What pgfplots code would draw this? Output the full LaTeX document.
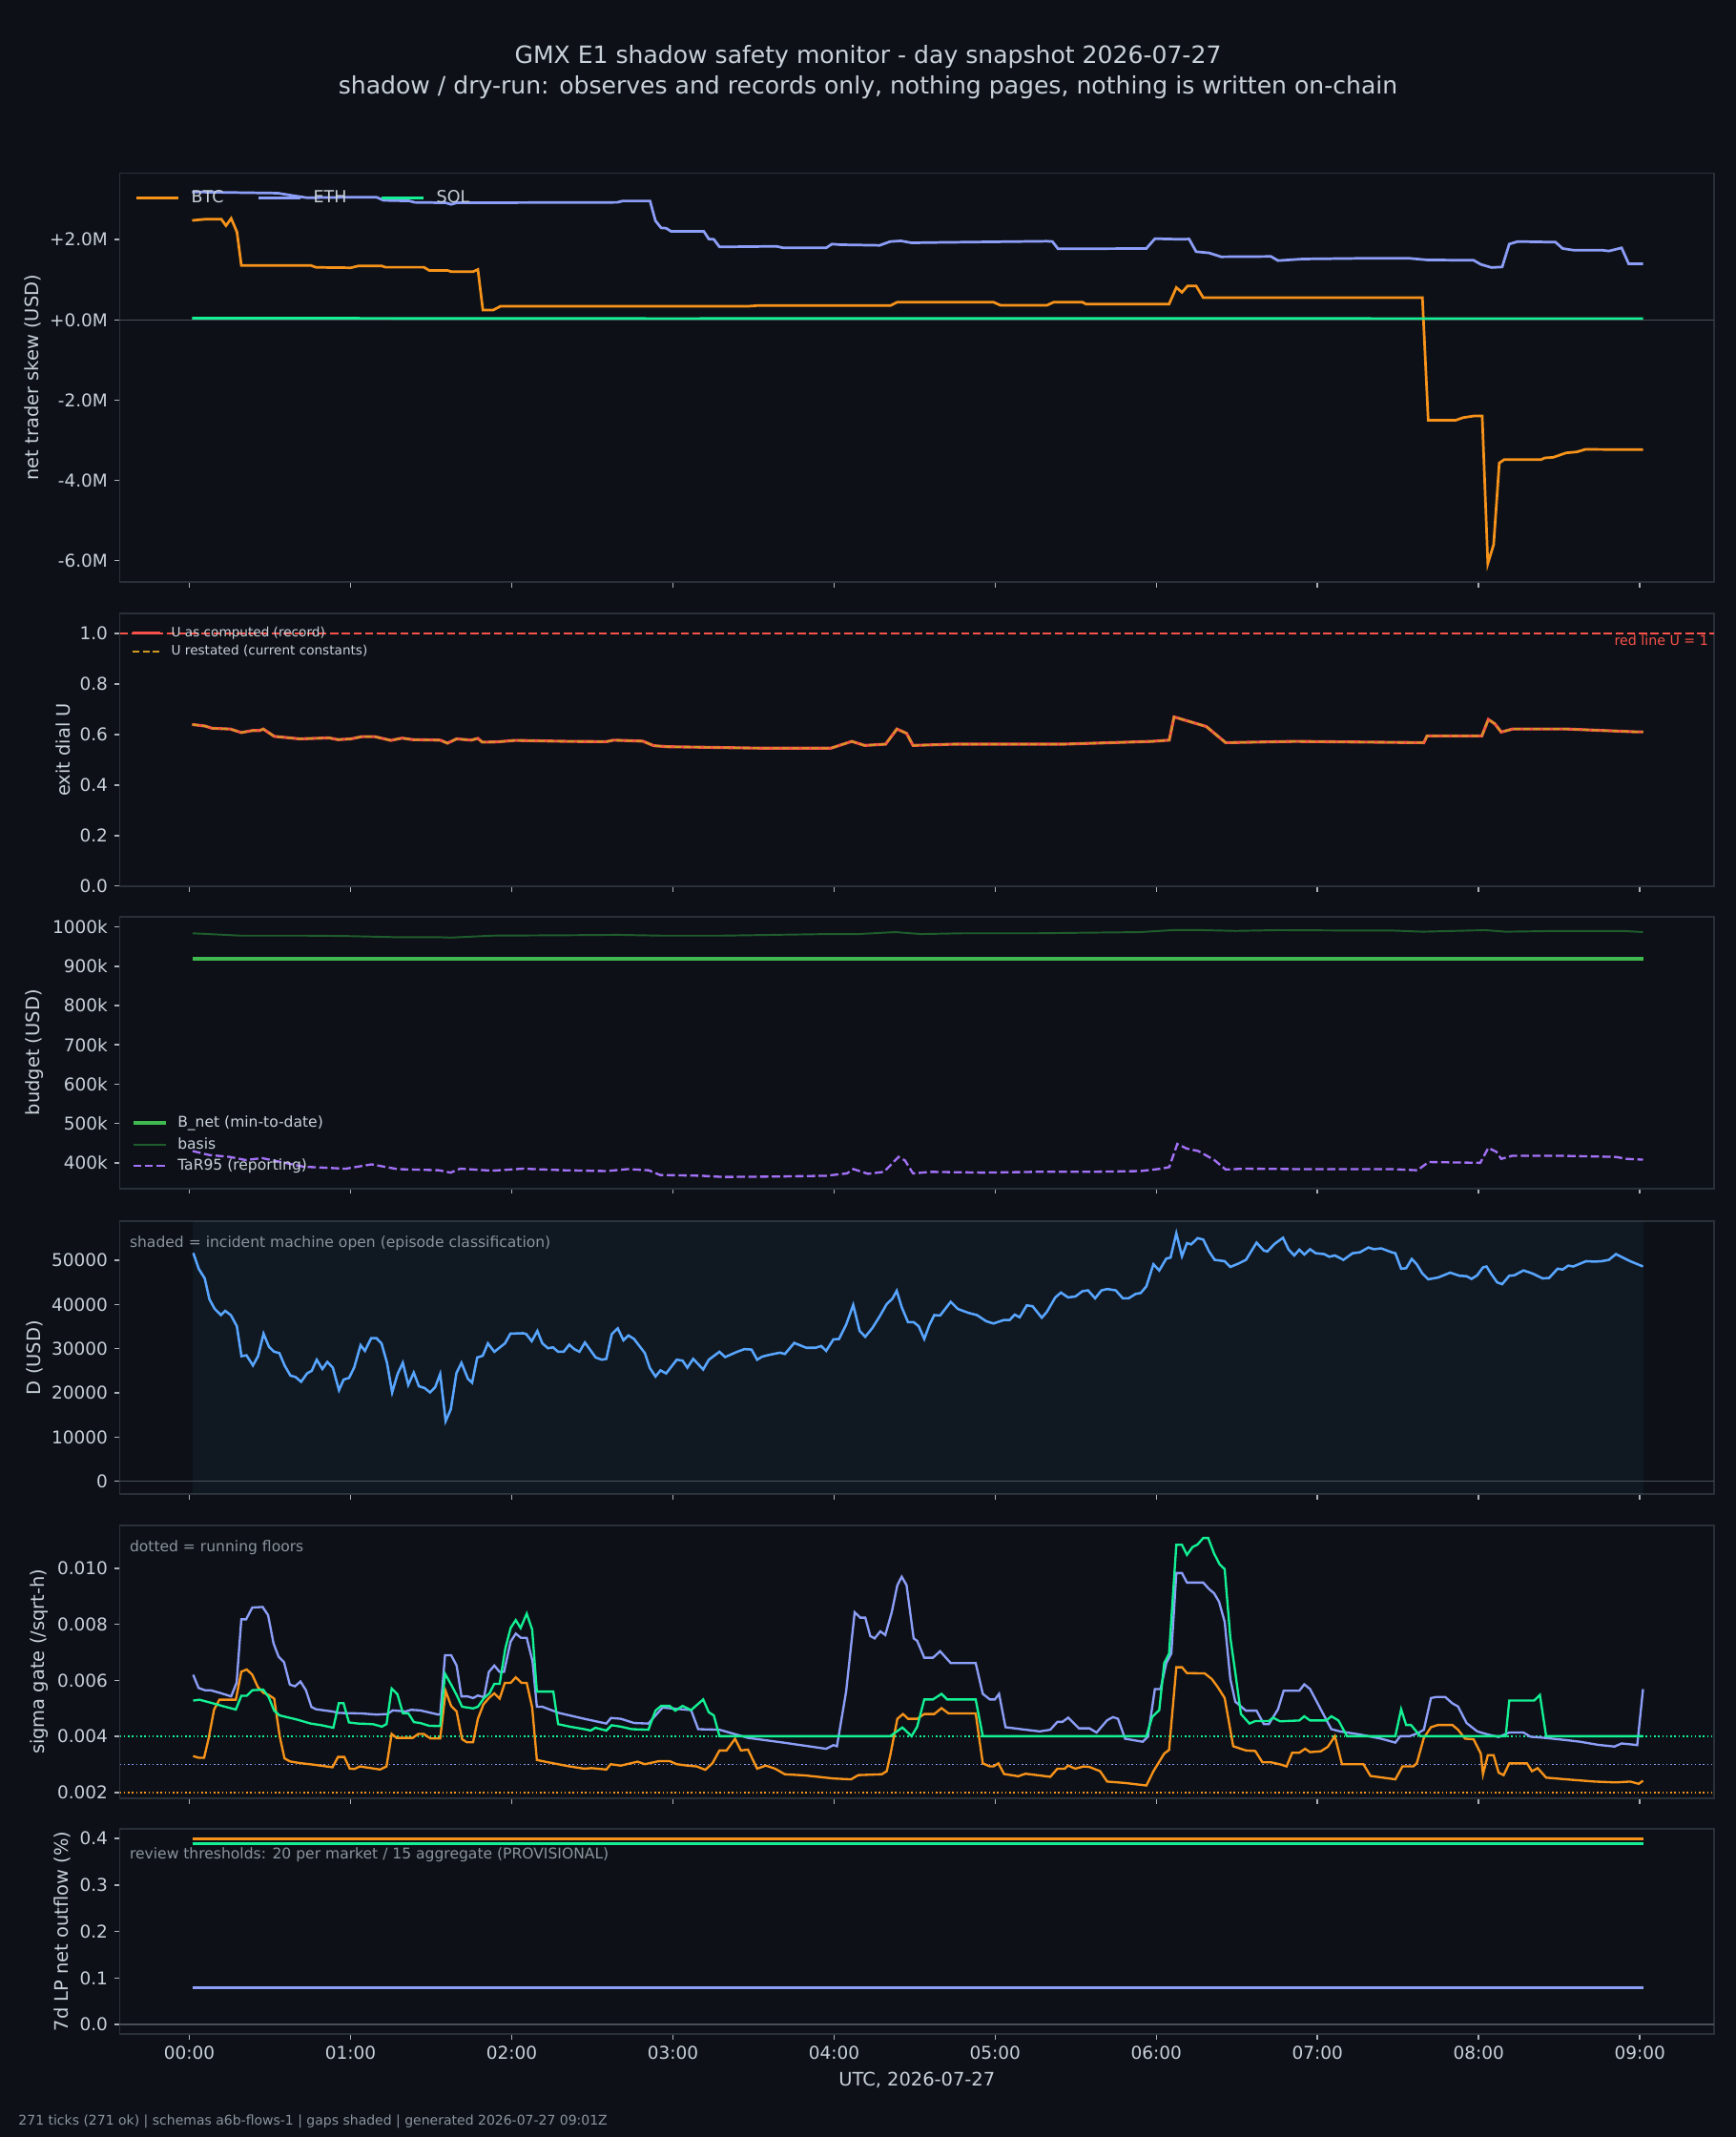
\documentclass[border=0pt]{standalone}
\usepackage{fontspec}
\setmainfont{DejaVu Sans}
\usepackage{pgfplots}
\pgfplotsset{compat=1.18}
\definecolor{figbg}{HTML}{0D1117}
\definecolor{spine}{HTML}{2A3038}
\definecolor{fg}{HTML}{C9D1D9}
\definecolor{muted}{HTML}{8B949E}
\definecolor{zl}{HTML}{484F58}
\definecolor{btc}{HTML}{F7931A}
\definecolor{eth}{HTML}{8C9EF7}
\definecolor{sol}{HTML}{14F195}
\definecolor{ured}{HTML}{F85149}
\definecolor{ugold}{HTML}{D29922}
\definecolor{bnet}{HTML}{3FB950}
\definecolor{basis}{HTML}{1F5C2C}
\definecolor{tar}{HTML}{A371F7}
\definecolor{dblue}{HTML}{58A6FF}
\pgfplotsset{
 panel/.style={
  scale only axis, width=859.5pt,
  xmin=-0.432, xmax=9.46,
  axis line style={draw=spine, line width=0.9pt},
  tick style={color=fg!85!black, line width=0.8pt},
  tick align=outside, major tick length=3pt,
  xtick={0,1,2,3,4,5,6,7,8,9}, xticklabels={},
  tick pos=left,
  ticklabel style={font=\fontsize{9.5}{11}\selectfont, text=fg},
  label style={font=\fontsize{10}{12}\selectfont, text=fg},
  ylabel shift=-2pt,
  legend cell align=left,
  legend style={draw=none, fill=none, text=fg},
 },
}
\begin{document}
\begin{tikzpicture}
\fill[figbg] (0,0) rectangle (936pt,-1152pt);
\node[text=fg, font=\fontsize{12.9}{15}\selectfont] at (468pt,-30.8pt) {GMX E1 shadow safety monitor - day snapshot 2026-07-27};
\node[text=fg, font=\fontsize{12.9}{15}\selectfont] at (468pt,-47.1pt) {shadow / dry-run: observes and records only, nothing pages, nothing is written on-chain};
\node[anchor=west, text=muted, font=\fontsize{7.2}{8}\selectfont, inner sep=0pt] at (9.8pt,-1143.6pt) {271 ticks (271 ok) | schemas a6b-flows-1 | gaps shaded | generated 2026-07-27 09:01Z};

% ---------------- panel 1
\begin{axis}[panel, at={(64.6pt,-93.3pt)}, anchor=north west, height=220.4pt,
 ymin=-6.53, ymax=3.66, ytick={-6,-4,-2,0,2}, yticklabels={-6.0M,-4.0M,-2.0M,+0.0M,+2.0M},
 ylabel={net trader skew (USD)},
 legend columns=3,
 legend style={at={(0,1)}, anchor=north west, xshift=5pt, yshift=-5pt, font=\fontsize{9}{11}\selectfont, /tikz/every even column/.append style={column sep=16pt}, /tikz/every odd column/.append style={column sep=4.5pt}},
 legend image code/.code={\draw[#1] (0pt,0pt) -- (22.5pt,0pt);},
]
\addplot[zl, line width=0.8pt, forget plot] coordinates {(-0.432,0) (9.46,0)};
\addplot[btc, line width=1.4pt] coordinates {(0.017,2.48) (0.096,2.51) (0.198,2.51) (0.227,2.35) (0.259,2.53) (0.295,2.19) (0.322,1.36) (0.752,1.36) (0.786,1.31) (1.002,1.30) (1.047,1.345) (1.194,1.345) (1.217,1.313) (1.455,1.313) (1.488,1.234) (1.602,1.234) (1.624,1.203) (1.76,1.203) (1.79,1.258) (1.821,0.246) (1.885,0.246) (1.93,0.341) (3.466,0.341) (3.532,0.36) (4.349,0.357) (4.393,0.444) (4.989,0.444) (5.033,0.364) (5.32,0.364) (5.364,0.444) (5.541,0.444) (5.563,0.396) (6.079,0.396) (6.124,0.807) (6.159,0.689) (6.194,0.847) (6.247,0.847) (6.291,0.554) (7.651,0.554) (7.687,-2.498) (7.859,-2.498) (7.903,-2.435) (7.969,-2.395) (8.022,-2.395) (8.057,-6.073) (8.093,-5.598) (8.128,-3.566) (8.159,-3.479) (8.388,-3.479) (8.41,-3.439) (8.463,-3.424) (8.543,-3.313) (8.609,-3.289) (8.662,-3.226) (9.02,-3.234)};
\addlegendentry{BTC}
\addplot[eth, line width=1.4pt] coordinates {(0.017,3.19) (0.549,3.16) (0.64,3.10) (0.73,3.045) (1.047,3.06) (1.16,3.06) (1.205,2.98) (1.364,2.966) (1.398,2.93) (1.59,2.92) (1.624,2.88) (1.658,2.92) (2.655,2.93) (2.689,2.966) (2.858,2.966) (2.892,2.47) (2.927,2.294) (2.958,2.286) (2.989,2.207) (3.192,2.207) (3.223,2.017) (3.254,2.009) (3.289,1.82) (3.532,1.83) (3.642,1.835) (3.686,1.796) (3.951,1.796) (3.987,1.891) (4.04,1.875) (4.283,1.859) (4.349,1.954) (4.415,1.97) (4.481,1.922) (4.614,1.93) (5.32,1.962) (5.355,1.954) (5.39,1.772) (5.938,1.78) (5.991,2.025) (6.159,2.009) (6.203,2.017) (6.247,1.701) (6.327,1.67) (6.402,1.574) (6.711,1.582) (6.755,1.479) (6.91,1.519) (7.263,1.535) (7.572,1.535) (7.682,1.495) (7.969,1.487) (8.013,1.385) (8.08,1.306) (8.146,1.321) (8.19,1.891) (8.243,1.954) (8.477,1.938) (8.521,1.78) (8.587,1.74) (8.764,1.74) (8.808,1.717) (8.887,1.796) (8.931,1.4) (9.02,1.4)};
\addlegendentry{ETH}
\addplot[sol, line width=1.4pt] coordinates {(0.017,0.045) (1.5,0.04) (3.0,0.035) (4.5,0.04) (6.0,0.04) (7.5,0.035) (9.02,0.035)};
\addlegendentry{SOL}
\end{axis}

% ---------------- panel 2
\begin{axis}[panel, at={(64.6pt,-330.7pt)}, anchor=north west, height=146.9pt,
 ymin=0, ymax=1.08, ytick={0,0.2,0.4,0.6,0.8,1.0}, yticklabels={0.0,0.2,0.4,0.6,0.8,1.0},
 ylabel={exit dial U},
 legend style={at={(0,1)}, anchor=north west, xshift=3pt, yshift=-3pt, font=\fontsize{7}{8}\selectfont, row sep=-1pt, /tikz/every odd column/.append style={column sep=3pt}},
 legend image code/.code={\draw[#1] (0pt,0pt) -- (15pt,0pt);},
]
\addplot[ured, line width=1.2pt, dash pattern=on 4.4pt off 1.9pt, forget plot] coordinates {(-0.432,1) (9.46,1)};
\addplot[ured, line width=1.6pt] coordinates {(0.017,0.640) (0.096,0.634) (0.141,0.625) (0.254,0.622) (0.322,0.608) (0.39,0.616) (0.435,0.616) (0.458,0.622) (0.526,0.593) (0.685,0.583) (0.866,0.587) (0.922,0.58) (1.002,0.583) (1.07,0.592) (1.149,0.592) (1.25,0.577) (1.319,0.586) (1.386,0.58) (1.556,0.578) (1.601,0.566) (1.658,0.583) (1.749,0.578) (1.79,0.585) (1.817,0.57) (1.907,0.571) (2.02,0.577) (2.36,0.573) (2.587,0.572) (2.632,0.578) (2.813,0.574) (2.881,0.556) (2.967,0.552) (3.56,0.546) (3.98,0.546) (4.11,0.573) (4.19,0.557) (4.32,0.562) (4.39,0.622) (4.45,0.605) (4.49,0.557) (4.74,0.562) (5.42,0.562) (5.97,0.573) (6.08,0.578) (6.11,0.67) (6.22,0.649) (6.31,0.632) (6.43,0.568) (6.86,0.573) (7.66,0.568) (7.68,0.595) (8.02,0.595) (8.06,0.66) (8.10,0.643) (8.14,0.61) (8.21,0.622) (8.55,0.622) (8.97,0.611) (9.02,0.611)};
\addlegendentry{U as computed (record)}
\addplot[ugold, line width=1pt, dash pattern=on 3.7pt off 1.6pt] coordinates {(0.017,0.640) (0.096,0.634) (0.141,0.625) (0.254,0.622) (0.322,0.608) (0.39,0.616) (0.435,0.616) (0.458,0.622) (0.526,0.593) (0.685,0.583) (0.866,0.587) (0.922,0.58) (1.002,0.583) (1.07,0.592) (1.149,0.592) (1.25,0.577) (1.319,0.586) (1.386,0.58) (1.556,0.578) (1.601,0.566) (1.658,0.583) (1.749,0.578) (1.79,0.585) (1.817,0.57) (1.907,0.571) (2.02,0.577) (2.36,0.573) (2.587,0.572) (2.632,0.578) (2.813,0.574) (2.881,0.556) (2.967,0.552) (3.56,0.546) (3.98,0.546) (4.11,0.573) (4.19,0.557) (4.32,0.562) (4.39,0.622) (4.45,0.605) (4.49,0.557) (4.74,0.562) (5.42,0.562) (5.97,0.573) (6.08,0.578) (6.11,0.67) (6.22,0.649) (6.31,0.632) (6.43,0.568) (6.86,0.573) (7.66,0.568) (7.68,0.595) (8.02,0.595) (8.06,0.66) (8.10,0.643) (8.14,0.61) (8.21,0.622) (8.55,0.622) (8.97,0.611) (9.02,0.611)};
\addlegendentry{U restated (current constants)}
\node[anchor=north east, text=ured, font=\fontsize{7.3}{8}\selectfont, inner sep=0pt] at (axis cs:9.427,0.995) {red line U = 1};
\end{axis}

% ---------------- panel 3
\begin{axis}[panel, at={(64.6pt,-494.2pt)}, anchor=north west, height=146.4pt,
 ymin=335, ymax=1026, ytick={400,500,600,700,800,900,1000}, yticklabels={400k,500k,600k,700k,800k,900k,1000k},
 ylabel={budget (USD)},
 legend style={at={(0,0)}, anchor=south west, xshift=3pt, yshift=4pt, font=\fontsize{8}{9}\selectfont, row sep=0pt, /tikz/every odd column/.append style={column sep=3.5pt}},
 legend image code/.code={\draw[#1] (0pt,0pt) -- (17.5pt,0pt);},
]
\addplot[bnet, line width=2pt] coordinates {(0.02,919) (9.02,919)};
\addlegendentry{B\_net (min-to-date)}
\addplot[basis, line width=1pt] coordinates {(0.02,984) (0.32,978) (0.71,978) (0.97,977) (1.29,974) (1.55,974) (1.62,973) (1.88,978) (2.33,979) (2.66,980) (2.92,978) (3.31,978) (3.95,982) (4.15,982) (4.38,987) (4.54,982) (4.8,984) (5.25,984) (5.9,987) (6.1,992) (6.29,992) (6.49,990) (6.75,992) (7.2,991) (7.46,991) (7.65,988) (7.85,990) (8.04,992) (8.17,988) (8.5,990) (8.89,990) (9.02,987)};
\addlegendentry{basis}
\addplot[tar, line width=1.2pt, dash pattern=on 4.4pt off 1.9pt] coordinates {(0.02,430) (0.12,420) (0.25,415) (0.35,407) (0.45,412) (0.71,390) (0.97,385) (1.13,396) (1.29,384) (1.55,381) (1.62,375) (1.68,385) (1.88,380) (2.07,385) (2.33,381) (2.59,379) (2.72,384) (2.85,381) (2.92,369) (3.18,367) (3.31,364) (3.63,365) (3.95,367) (4.08,373) (4.12,384) (4.21,372) (4.31,377) (4.40,415) (4.44,406) (4.49,373) (4.60,377) (4.93,375) (5.25,377) (5.58,377) (5.90,379) (6.03,385) (6.08,389) (6.13,448) (6.19,436) (6.26,430) (6.36,407) (6.43,383) (6.55,385) (6.87,384) (7.20,384) (7.46,384) (7.62,381) (7.69,402) (8.01,400) (8.06,438) (8.11,428) (8.14,410) (8.21,418) (8.50,418) (8.85,415) (8.92,410) (9.02,408)};
\addlegendentry{TaR95 (reporting)}
\end{axis}

% ---------------- panel 4
\begin{axis}[panel, at={(64.6pt,-658.3pt)}, anchor=north west, height=147.1pt,
 ymin=-2.9, ymax=58.85, ytick={0,10,20,30,40,50}, yticklabels={0,10000,20000,30000,40000,50000},
 ylabel={D (USD)},
]
\addplot[draw=none, fill=dblue, fill opacity=0.05, forget plot] coordinates {(0.02,-2.9) (9.02,-2.9) (9.02,58.85) (0.02,58.85)} --cycle;
\addplot[zl, line width=0.8pt, forget plot] coordinates {(-0.432,0) (9.46,0)};
\addplot[dblue, line width=1.3pt] coordinates {(0.024,51.66) (0.058,48.06) (0.095,45.9) (0.124,41.2) (0.156,39.05) (0.196,37.6) (0.222,38.55) (0.257,37.6) (0.294,35.1) (0.323,28.3) (0.354,28.5) (0.394,26.2) (0.426,28.3) (0.46,33.4) (0.494,30.4) (0.526,29.3) (0.558,29.0) (0.592,26.1) (0.627,23.9) (0.658,23.6) (0.693,22.5) (0.73,24.4) (0.759,25.0) (0.79,27.5) (0.825,25.4) (0.856,27.0) (0.89,25.7) (0.928,20.6) (0.957,23.0) (0.991,23.4) (1.023,25.8) (1.062,30.8) (1.089,29.5) (1.128,32.4) (1.16,32.4) (1.192,31.2) (1.226,26.8) (1.258,20.1) (1.292,24.3) (1.324,26.8) (1.358,21.8) (1.392,24.6) (1.424,21.5) (1.459,21.1) (1.493,20.1) (1.525,21.3) (1.556,24.3) (1.59,13.6) (1.622,16.3) (1.657,24.5) (1.688,26.8) (1.728,23.2) (1.754,22.3) (1.786,28.0) (1.82,28.4) (1.852,31.2) (1.892,29.3) (1.958,31.2) (1.992,33.4) (2.071,33.5) (2.09,33.3) (2.124,31.7) (2.159,34.0) (2.19,31.2) (2.225,30.1) (2.256,30.3) (2.288,29.3) (2.322,29.3) (2.357,30.9) (2.388,29.9) (2.42,29.3) (2.454,31.4) (2.521,28.0) (2.56,27.5) (2.587,27.7) (2.621,33.3) (2.658,34.6) (2.693,31.9) (2.724,33.0) (2.759,32.2) (2.826,29.0) (2.856,25.7) (2.892,23.7) (2.923,25.1) (2.958,24.4) (3.024,27.5) (3.06,27.3) (3.09,25.7) (3.126,27.7) (3.188,25.3) (3.223,27.5) (3.289,29.3) (3.324,28.1) (3.399,29.3) (3.444,29.9) (3.488,29.8) (3.523,27.5) (3.554,28.2) (3.598,28.6) (3.664,29.1) (3.695,28.8) (3.753,31.3) (3.828,30.2) (3.885,30.2) (3.92,30.6) (3.951,29.5) (3.996,32.1) (4.031,32.2) (4.075,35.4) (4.119,39.9) (4.159,34.0) (4.194,32.7) (4.238,34.7) (4.283,37.3) (4.327,40.1) (4.362,41.3) (4.389,43.1) (4.42,39.4) (4.459,36.0) (4.494,36.0) (4.525,35.1) (4.56,32.2) (4.592,35.4) (4.622,37.6) (4.658,37.5) (4.724,40.6) (4.768,39.0) (4.834,38.1) (4.887,37.6) (4.945,36.2) (4.989,35.7) (5.055,36.5) (5.09,36.5) (5.121,37.7) (5.152,37.1) (5.196,39.8) (5.232,39.6) (5.289,37.0) (5.32,38.3) (5.373,41.6) (5.408,42.7) (5.452,41.6) (5.497,41.8) (5.541,43.0) (5.576,43.2) (5.62,41.4) (5.66,43.2) (5.695,43.5) (5.748,43.2) (5.792,41.4) (5.828,41.4) (5.872,42.4) (5.903,42.6) (5.938,44.1) (5.982,49.1) (6.018,47.7) (6.062,50.4) (6.088,50.6) (6.124,56.1) (6.159,50.9) (6.19,53.9) (6.216,53.6) (6.256,55.0) (6.291,54.7) (6.327,52.0) (6.362,50.1) (6.424,49.8) (6.459,48.5) (6.512,49.3) (6.556,50.1) (6.622,54.0) (6.667,52.2) (6.689,52.0) (6.733,53.7) (6.786,55.1) (6.821,52.4) (6.856,51.1) (6.887,52.4) (6.918,51.3) (6.954,52.5) (6.989,51.6) (7.042,51.4) (7.073,50.8) (7.108,51.1) (7.161,50.1) (7.218,51.6) (7.263,51.8) (7.316,52.9) (7.351,52.5) (7.395,52.7) (7.461,51.8) (7.483,51.6) (7.519,48.1) (7.55,48.2) (7.585,50.3) (7.616,49.1) (7.651,47.0) (7.687,45.7) (7.748,46.1) (7.823,47.2) (7.881,46.5) (7.925,46.4) (7.956,45.8) (7.991,46.6) (8.027,48.4) (8.049,48.6) (8.08,46.8) (8.115,45.0) (8.146,44.6) (8.19,46.5) (8.221,46.6) (8.278,47.7) (8.335,47.0) (8.397,45.9) (8.437,46.0) (8.49,48.1) (8.521,47.9) (8.556,48.8) (8.587,48.6) (8.667,49.8) (8.72,49.7) (8.764,49.8) (8.808,50.1) (8.852,51.4) (8.896,50.6) (8.94,49.8) (9.02,48.6)};
\node[anchor=west, text=muted, font=\fontsize{8}{9.6}\selectfont, inner sep=0pt] at (rel axis cs:0.006,0.918) {shaded = incident machine open (episode classification)};
\end{axis}

% ---------------- panel 5
\begin{axis}[panel, at={(64.6pt,-822.3pt)}, anchor=north west, height=147pt,
 ymin=1.8, ymax=11.53, ytick={2,4,6,8,10}, yticklabels={0.002,0.004,0.006,0.008,0.010},
 ylabel={sigma gate (/sqrt-h)},
]
\addplot[sol, line width=0.8pt, dash pattern=on 0.8pt off 1.4pt] coordinates {(-0.432,4) (9.46,4)};
\addplot[eth, line width=0.8pt, dash pattern=on 0.8pt off 1.4pt] coordinates {(-0.432,3) (9.46,3)};
\addplot[btc, line width=0.8pt, dash pattern=on 0.8pt off 1.4pt] coordinates {(-0.432,2) (9.46,2)};
\addplot[btc, line width=1.2pt] coordinates {(0.023,3.30) (0.057,3.24) (0.091,3.24) (0.118,3.90) (0.153,4.96) (0.186,5.31) (0.288,5.31) (0.322,6.31) (0.356,6.39) (0.39,6.20) (0.424,5.77) (0.458,5.56) (0.492,5.48) (0.526,5.35) (0.56,4.01) (0.59,3.22) (0.623,3.11) (0.685,3.05) (0.775,2.99) (0.888,2.90) (0.922,3.27) (0.961,3.27) (0.995,2.85) (1.024,2.84) (1.058,2.93) (1.183,2.82) (1.223,2.93) (1.255,4.09) (1.285,3.95) (1.386,3.95) (1.42,4.09) (1.454,4.09) (1.495,3.93) (1.556,3.93) (1.59,5.62) (1.624,5.09) (1.658,4.89) (1.692,3.90) (1.722,3.79) (1.76,3.79) (1.79,4.63) (1.824,5.14) (1.858,5.37) (1.892,5.54) (1.925,5.35) (1.957,5.91) (1.993,5.91) (2.025,6.11) (2.061,5.91) (2.093,5.91) (2.127,5.03) (2.156,3.16) (2.224,3.08) (2.36,2.93) (2.45,2.85) (2.496,2.87) (2.587,2.82) (2.614,3.01) (2.677,2.96) (2.781,3.10) (2.826,3.01) (2.914,3.12) (2.98,3.12) (3.024,3.01) (3.09,2.96) (3.148,2.93) (3.201,2.81) (3.245,3.04) (3.289,3.50) (3.333,3.50) (3.386,3.92) (3.422,3.50) (3.466,3.53) (3.523,2.85) (3.576,2.96) (3.634,2.85) (3.695,2.65) (3.819,2.61) (3.996,2.50) (4.106,2.47) (4.15,2.62) (4.296,2.65) (4.327,2.76) (4.349,3.33) (4.393,4.63) (4.428,4.80) (4.459,4.63) (4.516,4.63) (4.56,4.80) (4.622,4.80) (4.667,5.01) (4.711,4.82) (4.879,4.82) (4.923,3.04) (4.967,2.93) (4.989,2.93) (5.02,3.04) (5.055,2.66) (5.143,2.58) (5.188,2.67) (5.342,2.56) (5.386,2.85) (5.431,2.85) (5.453,2.96) (5.497,2.85) (5.55,2.93) (5.585,2.91) (5.651,2.76) (5.695,2.39) (5.806,2.34) (5.938,2.25) (5.982,2.76) (6.049,3.39) (6.079,3.52) (6.124,6.47) (6.159,6.47) (6.19,6.26) (6.3,6.25) (6.344,6.05) (6.38,5.77) (6.424,5.37) (6.477,3.65) (6.556,3.50) (6.614,3.48) (6.658,3.08) (6.711,3.08) (6.777,2.99) (6.808,2.93) (6.843,3.42) (6.887,3.42) (6.923,3.56) (6.954,3.44) (7.02,3.47) (7.064,3.63) (7.108,4.01) (7.152,3.01) (7.285,3.01) (7.329,2.59) (7.483,2.47) (7.527,2.93) (7.594,2.93) (7.616,3.04) (7.66,3.95) (7.704,4.33) (7.748,4.41) (7.837,4.41) (7.872,4.24) (7.916,3.92) (7.969,3.90) (8.013,3.39) (8.027,2.65) (8.057,3.33) (8.093,3.33) (8.124,2.71) (8.155,2.62) (8.19,3.04) (8.3,3.04) (8.331,2.76) (8.366,2.87) (8.419,2.53) (8.543,2.47) (8.72,2.39) (8.852,2.36) (8.94,2.39) (8.993,2.31) (9.02,2.42)};
\addplot[eth, line width=1.2pt] coordinates {(0.023,6.20) (0.057,5.73) (0.096,5.65) (0.13,5.65) (0.186,5.56) (0.259,5.43) (0.293,5.92) (0.322,8.18) (0.352,8.18) (0.39,8.60) (0.454,8.62) (0.488,8.33) (0.522,7.32) (0.553,6.85) (0.587,6.65) (0.623,5.85) (0.655,5.79) (0.689,5.96) (0.723,5.65) (0.757,5.05) (0.786,4.97) (0.888,4.89) (0.922,4.84) (1.07,4.82) (1.16,4.78) (1.228,4.80) (1.262,4.93) (1.341,4.89) (1.375,4.95) (1.432,4.93) (1.545,4.78) (1.556,4.78) (1.586,6.90) (1.624,6.90) (1.658,6.53) (1.688,5.43) (1.726,5.43) (1.76,5.37) (1.79,5.46) (1.828,5.40) (1.858,6.30) (1.892,6.53) (1.925,6.30) (1.952,6.30) (1.993,7.38) (2.025,7.67) (2.057,7.52) (2.093,7.52) (2.129,6.68) (2.156,5.06) (2.19,5.06) (2.292,4.84) (2.45,4.63) (2.587,4.46) (2.616,4.66) (2.677,4.63) (2.759,4.48) (2.848,4.46) (2.883,4.69) (2.936,5.03) (3.113,4.94) (3.157,4.26) (3.289,4.24) (3.466,3.95) (3.686,3.78) (3.951,3.56) (3.996,3.69) (4.018,3.65) (4.075,5.60) (4.128,8.43) (4.163,8.24) (4.194,8.24) (4.225,7.58) (4.252,7.50) (4.287,7.75) (4.318,7.62) (4.358,8.43) (4.393,9.40) (4.42,9.70) (4.45,9.40) (4.494,7.50) (4.516,7.41) (4.56,6.81) (4.614,6.81) (4.658,7.04) (4.724,6.62) (4.879,6.62) (4.923,5.52) (4.967,5.32) (4.998,5.32) (5.024,5.52) (5.064,4.33) (5.188,4.24) (5.276,4.18) (5.342,4.24) (5.386,4.52) (5.417,4.52) (5.453,4.67) (5.519,4.29) (5.585,4.29) (5.629,4.14) (5.695,4.58) (5.731,4.69) (5.762,4.63) (5.806,3.92) (5.916,3.81) (5.947,3.99) (5.991,5.69) (6.026,5.69) (6.062,6.62) (6.093,6.96) (6.124,9.83) (6.159,9.83) (6.19,9.49) (6.291,9.49) (6.327,9.26) (6.358,9.11) (6.389,8.81) (6.424,8.09) (6.459,6.05) (6.49,5.24) (6.556,4.92) (6.622,4.92) (6.667,4.44) (6.698,4.44) (6.755,4.97) (6.79,5.63) (6.887,5.63) (6.918,5.86) (6.954,5.69) (7.02,4.97) (7.086,4.26) (7.139,4.18) (7.263,4.07) (7.395,3.92) (7.483,3.78) (7.514,4.01) (7.572,4.01) (7.624,4.12) (7.66,4.24) (7.704,5.37) (7.739,5.41) (7.792,5.41) (7.837,5.18) (7.872,5.07) (7.925,4.48) (7.991,4.18) (8.057,4.07) (8.124,3.98) (8.19,4.14) (8.278,4.14) (8.322,3.99) (8.41,3.95) (8.543,3.87) (8.631,3.81) (8.742,3.70) (8.843,3.64) (8.887,3.75) (8.94,3.72) (8.984,3.69) (9.02,5.69)};
\addplot[sol, line width=1.2pt] coordinates {(0.023,5.28) (0.062,5.31) (0.141,5.19) (0.209,5.08) (0.288,4.96) (0.322,5.45) (0.356,5.45) (0.39,5.65) (0.458,5.67) (0.492,5.40) (0.526,4.92) (0.56,4.75) (0.662,4.61) (0.753,4.46) (0.82,4.40) (0.893,4.31) (0.927,5.19) (0.956,5.19) (0.99,4.50) (1.047,4.46) (1.138,4.44) (1.194,4.35) (1.223,4.44) (1.255,5.71) (1.291,5.50) (1.325,4.82) (1.359,4.82) (1.393,4.51) (1.432,4.48) (1.488,4.38) (1.556,4.37) (1.586,6.24) (1.624,5.85) (1.658,5.48) (1.692,5.06) (1.76,5.0) (1.79,5.06) (1.828,5.37) (1.862,5.54) (1.892,5.88) (1.925,5.88) (1.96,7.13) (1.993,7.87) (2.025,8.15) (2.055,7.87) (2.093,8.38) (2.127,7.81) (2.156,5.60) (2.258,5.60) (2.288,4.44) (2.36,4.35) (2.45,4.26) (2.49,4.21) (2.519,4.31) (2.587,4.21) (2.62,4.40) (2.677,4.35) (2.745,4.26) (2.848,4.24) (2.892,4.92) (2.927,5.09) (2.98,5.09) (3.015,4.92) (3.06,5.09) (3.113,4.94) (3.188,5.32) (3.223,4.86) (3.254,4.75) (3.289,4.01) (4.349,4.01) (4.424,4.32) (4.481,4.01) (4.516,4.35) (4.56,5.32) (4.614,5.32) (4.667,5.52) (4.702,5.32) (4.879,5.32) (4.923,4.01) (5.938,4.01) (5.974,4.69) (6.018,4.94) (6.049,6.62) (6.079,6.96) (6.124,10.84) (6.159,10.84) (6.19,10.48) (6.225,10.76) (6.256,10.85) (6.291,11.08) (6.322,11.08) (6.358,10.53) (6.393,10.14) (6.424,9.97) (6.459,7.53) (6.49,6.28) (6.525,4.80) (6.578,4.46) (6.614,4.55) (6.698,4.55) (6.724,4.67) (6.768,4.54) (6.887,4.57) (6.918,4.72) (6.954,4.57) (7.055,4.57) (7.086,4.72) (7.13,4.57) (7.183,4.01) (7.483,4.01) (7.519,4.97) (7.55,4.41) (7.58,4.41) (7.638,4.01) (8.168,4.01) (8.19,5.28) (8.344,5.28) (8.38,5.48) (8.419,4.01) (9.02,4.01)};
\node[anchor=west, text=muted, font=\fontsize{8}{9.6}\selectfont, inner sep=0pt] at (rel axis cs:0.006,0.918) {dotted = running floors};
\end{axis}

% ---------------- panel 6
\begin{axis}[panel, at={(64.6pt,-986pt)}, anchor=north west, height=110.3pt,
 ymin=-0.02, ymax=0.4205, ytick={0,0.1,0.2,0.3,0.4}, yticklabels={0.0,0.1,0.2,0.3,0.4},
 ylabel={7d LP net outflow (\%)},
 xticklabels={00:00,01:00,02:00,03:00,04:00,05:00,06:00,07:00,08:00,09:00},
 xlabel={UTC, 2026-07-27},
]
\addplot[zl, line width=0.8pt] coordinates {(-0.432,0) (9.46,0)};
\addplot[btc, line width=1.5pt] coordinates {(0.02,0.400) (9.02,0.400)};
\addplot[sol, line width=1.5pt] coordinates {(0.02,0.389) (9.02,0.389)};
\addplot[eth, line width=1.5pt] coordinates {(0.02,0.079) (9.02,0.079)};
\node[anchor=west, text=muted, font=\fontsize{8}{9.6}\selectfont, inner sep=0pt] at (rel axis cs:0.006,0.874) {review thresholds: 20 per market / 15 aggregate (PROVISIONAL)};
\end{axis}
\end{tikzpicture}
\end{document}
